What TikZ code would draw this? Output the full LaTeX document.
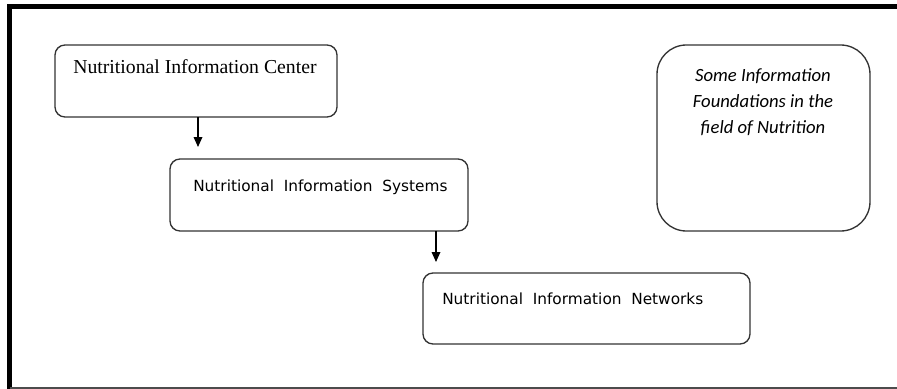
\documentclass[tikz,border=0pt]{standalone}
\usepackage{fontspec}
\setmainfont{Liberation Serif}
\newfontfamily\boxsans{DejaVu Sans}
\newfontfamily\calib{Carlito}
\usetikzlibrary{arrows.meta}
\definecolor{edge}{HTML}{333333}
\begin{document}
\begin{tikzpicture}[x=0.75pt,y=-0.75pt,
  box/.style={draw=edge, line width=1pt, rounded corners=7.5pt, inner sep=0pt, outer sep=0pt},
  txt/.style={anchor=base west, inner sep=0pt, text=black},
  flow/.style={-{Triangle[length=7.5pt,width=6.5pt]}, line width=0.9pt, black}]
\useasboundingbox (0,0) rectangle (897,389);
% frame
\draw[line width=3.75pt, line cap=rect] (9.8,389) -- (9.8,6.8) -- (897,6.8);
\draw[line width=1.5pt, black!70] (9.8,387.5) -- (897,387.5);
% boxes
\node[box, minimum width=211.5pt, minimum height=54pt] (b1) at (196,81) {};
\node[box, minimum width=223.5pt, minimum height=54pt] (b2) at (319,195) {};
\node[box, minimum width=245.25pt, minimum height=53.25pt] (b3) at (586.5,308.5) {};
\node[box, rounded corners=22pt, minimum width=159.75pt, minimum height=139.5pt] (b4) at (763.5,138) {};
% texts
\node[txt] (t1) at (73,73) {\fontsize{14.8}{17}\selectfont Nutritional Information Center};
\node[txt] (t2) at (193,191) {\boxsans\fontsize{11.5}{14}\selectfont Nutritional\ \ Information\ \ Systems};
\node[txt] (t3) at (442,304) {\boxsans\fontsize{11.5}{14}\selectfont Nutritional\ \ Information\ \ Networks};
\node[anchor=north, inner sep=0pt, align=center, font=\calib\itshape\fontsize{14}{19.5}\selectfont] (t4) at (763,68.5)
  {Some Information\\Foundations in the\\field of Nutrition};
% arrows
\coordinate (a1e) at (198,147);
\coordinate (a2e) at (436,262);
\draw[flow] (b1.south -| a1e) -- (a1e);
\draw[flow] (b2.south -| a2e) -- (a2e);
\end{tikzpicture}
\end{document}
